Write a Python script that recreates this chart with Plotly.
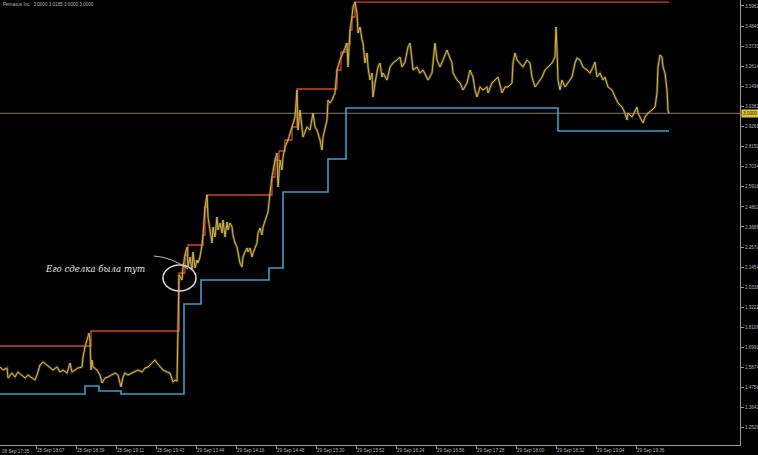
import plotly.graph_objects as go

# ---------------- data ----------------
price_bar = [0, 3, 7, 8, 12, 15, 18, 22, 25, 28, 32, 35, 37, 40, 43, 47, 50, 53, 57, 60, 63, 67, 70, 72, 75, 78, 82, 83,
             85, 87, 89, 90, 91, 92, 93, 97, 100, 102, 105, 108, 112, 115, 118, 121, 123, 125, 128, 132, 135, 138, 142,
             145, 148, 152, 155, 157, 160, 163, 167, 170, 173, 175, 177,
             178, 179, 182, 183, 185, 187, 188, 190, 192, 193, 195, 197, 198, 200, 202, 203, 205, 207, 208, 210, 212,
             213, 215, 217, 218, 220, 222, 223, 225, 227, 228, 230, 232, 233, 235, 237, 238, 240, 242, 243, 245, 247,
             248, 250, 252, 253, 257, 258, 260, 262, 263, 265, 267, 268, 270, 272, 275, 277, 278, 280, 282, 283, 285,
             288, 292, 295, 297, 298, 300, 303, 307, 310, 313, 315, 317, 320, 322, 323, 327, 328, 330, 332, 335, 337,
             340, 343, 347, 348, 350, 352, 353, 355, 357, 358, 360, 362, 363, 365, 367, 368, 370, 372, 373, 375, 378,
             380, 382, 383, 387, 390, 393, 397, 400, 402, 405, 408, 410, 412, 413, 417, 420, 423, 427, 428, 432, 435,
             437, 440, 443, 447, 448, 452, 453, 457, 460, 463, 467, 470, 473, 475, 477, 480, 483, 487, 488, 492, 495,
             498, 502, 505, 508, 512, 513, 515, 517, 520, 523, 527, 530, 532, 535, 538, 542, 545, 548, 552, 555, 556,
             557, 558, 560, 562, 565, 568, 572, 575, 577, 580, 583, 587, 590, 593, 595, 597, 600, 603, 605, 608, 612,
             615, 618, 622, 625, 627, 628, 632, 635, 637, 638, 642, 643, 645, 648, 652, 655, 657, 658, 660, 662, 663,
             665, 667, 668, 669]
price_val = [1.5906, 1.5739, 1.5850, 1.5295, 1.5573, 1.5350, 1.5628, 1.5461, 1.5295, 1.5461, 1.5295, 1.5184, 1.5461,
             1.6017, 1.6184, 1.6017, 1.5850, 1.5739, 1.5906, 1.5628, 1.5739, 1.5573, 1.6128, 1.5628, 1.5739, 1.5850,
             1.5906, 1.6462, 1.7017, 1.7406, 1.7795, 1.7406, 1.5739, 1.6295, 1.5906, 1.5739, 1.5461, 1.5017, 1.5295,
             1.5350, 1.5461, 1.5573, 1.5461, 1.4795, 1.5350, 1.5573, 1.5461, 1.5573, 1.5628, 1.5739, 1.5628, 1.5850,
             1.5906, 1.6128, 1.6295, 1.6128, 1.5906, 1.5739, 1.5628, 1.5573, 1.5073, 1.5184, 1.5128,
             1.8906, 2.1017, 2.0739, 2.1462, 2.2128, 2.2573, 2.1462, 2.2017, 2.1295, 2.2295, 2.1406, 2.1850, 2.1684,
             2.2017, 2.2684, 2.3239, 2.4795, 2.5461, 2.4239, 2.3517, 2.2795, 2.3684, 2.3128, 2.4239, 2.3517, 2.3906,
             2.3350, 2.4073, 2.3128, 2.3962, 2.3517, 2.3906, 2.3684, 2.3239, 2.2795, 2.2573, 2.2239, 2.1684, 2.1462,
             2.2017, 2.2295, 2.2517, 2.2295, 2.2517, 2.2017, 2.2239, 2.2795, 2.3350, 2.3628, 2.3239, 2.3684, 2.4073,
             2.4462, 2.4517, 2.5573, 2.6462, 2.7406, 2.7795, 2.5906, 2.7406, 2.6850, 2.7573, 2.8128, 2.8517, 2.9239,
             2.9795, 3.1295, 2.9073, 3.0184, 2.8684, 2.9239, 2.9073, 3.0017, 2.9239, 2.9073, 2.8517, 2.7962, 2.8684,
             2.9628, 3.0739, 3.0573, 3.0739, 3.1128, 3.2406, 3.2962, 3.3350, 3.3906, 3.2573, 3.4628, 3.5350, 3.5906,
             3.6184, 3.5573, 3.4462, 3.4795, 3.4073, 3.3906, 3.2795, 3.3350, 3.2573, 3.1850, 3.2239, 3.0906, 3.1684,
             3.2573, 3.2795, 3.2017, 3.2239, 3.1850, 3.2573, 3.2795, 3.2962, 3.3128, 3.2573, 3.2850, 3.3684, 3.3906,
             3.2962, 3.2406, 3.2573, 3.2239, 3.2406, 3.2017, 3.1850, 3.2239, 3.3906, 3.2962, 3.2573, 3.2962, 3.3517,
             3.3350, 3.2795, 3.2239, 3.1850, 3.1684, 3.1295, 3.1684, 3.2406, 3.2017, 3.1295, 3.0906, 3.1462, 3.1295,
             3.1462, 3.1128, 3.1684, 3.1850, 3.2017, 3.1128, 3.1462, 3.1462, 3.1684, 3.2795, 3.3350, 3.2962, 3.2795,
             3.2573, 3.2962, 3.2795, 3.2017, 3.1462, 3.1684, 3.2017, 3.2406, 3.2573, 3.2795, 3.3128, 3.4795, 3.3517,
             3.1850, 3.1295, 3.1850, 3.1462, 3.1684, 3.2017, 3.2795, 3.3073, 3.2962, 3.2573, 3.2406, 3.2239, 3.2573,
             3.2850, 3.2017, 3.2239, 3.1850, 3.2017, 3.1462, 3.1295, 3.0906, 3.0573, 3.0350, 3.0017, 2.9628, 3.0017,
             2.9795, 3.0184, 3.0350, 3.0017, 2.9628, 2.9462, 2.9795, 3.0017, 3.0184, 3.0350, 3.1128, 3.2573, 3.3239,
             3.3128, 3.2573, 3.2239, 3.1295, 3.0184, 3.0000]

# highest-high channel (red), step line
hi_bar = [0, 91, 179, 185, 188, 203, 205, 207, 272, 275, 279, 285, 292, 297, 337, 341, 346, 350, 352, 355, 669]
hi_val = [1.7073, 1.7906, 2.1128, 2.2128, 2.2684, 2.3239, 2.4795, 2.5462, 2.6462, 2.7406, 2.7906, 2.8517, 2.9239,
          3.1351, 3.2406, 3.3406, 3.3851, 3.4628, 3.5350, 3.6175, 3.6175]

# lowest-low channel (blue), step line
lo_bar = [0, 85, 99, 121, 184, 201, 269, 283, 328, 346, 558, 669]
lo_val = [1.4406, 1.4851, 1.4573, 1.4406, 1.9406, 2.0739, 2.1406, 2.5628, 2.7462, 3.0295, 2.9017, 2.9017]

last_price = 3.0000

y_ticks = [3.5962, 3.4846, 3.3730, 3.2614, 3.1498, 3.0382, 2.9266, 2.8150, 2.7034, 2.5918, 2.4802, 2.3686,
           2.2570, 2.1454, 2.0338, 1.9222, 1.8106, 1.6990, 1.5874, 1.4758, 1.3642, 1.2526]
x_tick_bars = [36, 76, 116, 156, 196, 236, 276, 316, 356, 396, 436, 476, 516, 556, 596, 636]
x_tick_text = ["28 Sep 18:07", "28 Sep 18:39", "28 Sep 19:11", "28 Sep 19:43", "29 Sep 13:44", "29 Sep 14:16",
               "29 Sep 14:48", "29 Sep 15:20", "29 Sep 15:52", "29 Sep 16:24", "29 Sep 16:56", "29 Sep 17:28",
               "29 Sep 18:00", "29 Sep 18:32", "29 Sep 19:04", "29 Sep 19:36"]
first_tick_text = "28 Sep 17:35"
title_text = "Pemaxus Inc.  3.0000 3.0185 3.0000 3.0000"
note_text = "Его сделка была тут"

# ---------------- figure ----------------
AX = "#9a9a9a"
TXT = "#b4b4b4"
SMALL = dict(size=4.6, color=TXT, family="Liberation Sans")

fig = go.Figure()
fig.add_trace(go.Scatter(x=lo_bar, y=lo_val, mode="lines", line=dict(color="#3a9fd0", width=1.6, shape="hv"),
                         hoverinfo="skip"))
fig.add_trace(go.Scatter(x=hi_bar, y=hi_val, mode="lines", line=dict(color="#d8432b", width=1.3, shape="hv"),
                         hoverinfo="skip"))
# candle bodies impression (darker, wider) + wick line
fig.add_trace(go.Scatter(x=price_bar, y=price_val, mode="lines", line=dict(color="rgba(150,128,50,0.5)", width=2.6),
                         hoverinfo="skip"))
fig.add_trace(go.Scatter(x=price_bar, y=price_val, mode="lines", line=dict(color="#d2b24c", width=1.0)))

# current price line
fig.add_shape(type="line", xref="paper", x0=0, x1=1, yref="y", y0=last_price, y1=last_price,
              line=dict(color="#85796a", width=1), layer="below")
fig.add_annotation(xref="paper", x=1.0, xanchor="left", yref="y", y=last_price, text=f"{last_price:.4f}",
                   showarrow=False, bgcolor="#e3c53a", font=dict(size=4.6, color="#202020", family="Liberation Sans"),
                   borderpad=1, xshift=1)

# hand-drawn note
fig.add_annotation(x=43, xanchor="left", y=2.1351, yanchor="middle", text=note_text, showarrow=False,
                   font=dict(size=8.6, color="#e8e8e8", family="DejaVu Serif", style="italic"))
fig.add_shape(type="path", path="M 154,2.2073 Q 172,2.2000 188,2.1351",
              line=dict(color="#bdbdbd", width=1))
fig.add_shape(type="circle", x0=163, x1=196, y0=2.0128, y1=2.1573, line=dict(color="#cfcfcf", width=1.6))

# title and first time label
fig.add_annotation(xref="paper", yref="paper", x=0.001, y=1.0, xanchor="left", yanchor="top", text=title_text,
                   showarrow=False, font=SMALL)
fig.add_annotation(xref="paper", yref="paper", x=0.0, y=0, yshift=-2, xanchor="left", yanchor="top",
                   text=first_tick_text, showarrow=False, font=SMALL)

fig.update_layout(
    width=758, height=455, margin=dict(l=0, r=18, t=0, b=10, autoexpand=False),
    paper_bgcolor="#000000", plot_bgcolor="#000000", showlegend=False,
    font=dict(family="Liberation Sans", size=4.6, color=TXT),
)
fig.update_xaxes(range=[0, 740], showgrid=False, zeroline=False, showline=True, linecolor=AX, linewidth=1,
                 tickmode="array", tickvals=x_tick_bars, ticktext=x_tick_text, ticks="outside", ticklen=3,
                 tickcolor=AX, ticklabelposition="outside right", tickangle=0, automargin=False,
                 tickfont=SMALL)
fig.update_yaxes(range=[1.1573, 3.6295], side="right", showgrid=False, zeroline=False, showline=True,
                 linecolor=AX, linewidth=1, tickmode="array", tickvals=y_ticks,
                 ticktext=[f"{v:.4f}" for v in y_ticks], ticks="outside", ticklen=3, tickcolor=AX,
                 automargin=False, tickfont=SMALL)

fig.write_html("out.html", config={"displayModeBar": False},
               post_script="document.body.style.margin='0';document.body.style.background='#000';"
                           "document.body.style.overflow='hidden';")
